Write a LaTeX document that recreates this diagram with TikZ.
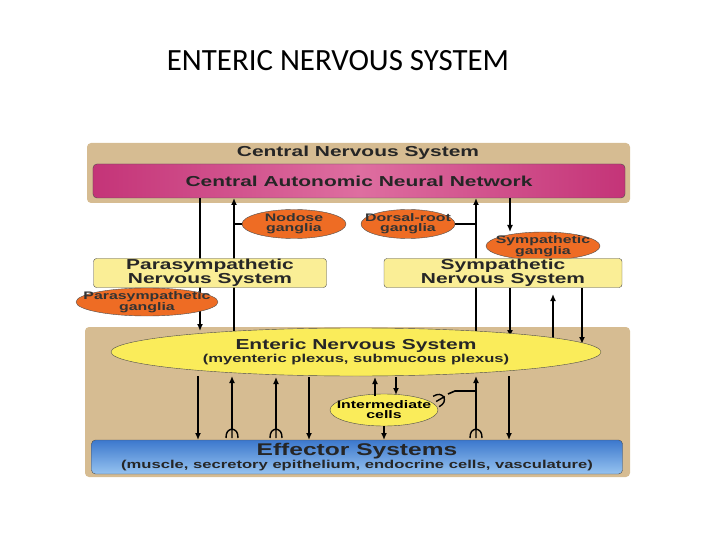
\documentclass[tikz,border=0pt]{standalone}
\usepackage{fontspec}
\setmainfont{Liberation Sans}
\newfontfamily\titlefont{Carlito}
\newfontfamily\wide[FakeStretch=1.45]{Liberation Sans}
\usetikzlibrary{shapes.geometric,arrows.meta}
\definecolor{tan}{RGB}{214,188,146}
\definecolor{pinkA}{RGB}{196,52,120}
\definecolor{pinkB}{RGB}{222,110,160}
\definecolor{ybox}{RGB}{250,238,150}
\definecolor{orng}{RGB}{238,108,36}
\definecolor{yell}{RGB}{250,236,90}
\definecolor{blueA}{RGB}{60,120,205}
\definecolor{blueB}{RGB}{150,195,240}
\tikzset{
 x=1bp,y=-1bp,
 lbl/.style={font=\wide\bfseries\fontsize{14.5}{12}\selectfont,align=center,text=black!85},
 sbox/.style={draw=black!70,rounded corners=3bp,fill=ybox,inner sep=0,lbl},
 gang/.style={ellipse,draw=black!70,fill=orng,inner xsep=-20bp,inner ysep=-4bp,align=center,font=\wide\bfseries\fontsize{11}{10}\selectfont,text=black!80},
 ar/.style={line width=1.6bp,-{Latex[length=7bp,width=6bp]}},
 ln/.style={line width=1.6bp},
 trident/.pic={\draw[line width=1.4bp] (0,-9) -- (0,1) (-6,1) .. controls (-6,-5) and (-4,-7) .. (0,-8) .. controls (4,-7) and (6,-5) .. (6,1);}
}
\begin{document}
\begin{tikzpicture}
\useasboundingbox (0,0) rectangle (720,540);
\node[font=\titlefont\fontsize{31}{31}\selectfont] (title) at (338,61) {ENTERIC NERVOUS SYSTEM};
% top block
\fill[tan,rounded corners=4bp] (87,143) rectangle (630,203);
\node[lbl] (cns) at (358,153) {Central Nervous System};
\node[draw=black!70,rounded corners=4bp,left color=pinkA,right color=pinkA,middle color=pinkB,minimum width=532bp,minimum height=34bp,inner sep=0,lbl] (canN) at (359,181) {Central Autonomic Neural Network};
% bottom tan
\fill[tan,rounded corners=4bp] (85,327) rectangle (630,477);
% arrows top
\draw[ar] (200,198) -- (200,331);
\draw[ar] (234,331) -- (234,198);
\draw[ln] (234,224) -- (245,224);
\draw[ar] (476,338) -- (476,198);
\draw[ln] (476,224) -- (455,224);
\draw[ar] (510,198) -- (510,232);
\draw[ar] (510,288) -- (510,337);
\draw[ar] (553,342) -- (553,294);
\draw[ar] (582,288) -- (582,344);
% ganglia and boxes
\node[gang,minimum width=104bp,minimum height=29bp] (nod) at (294,224) {Nodose\\ganglia};
\node[gang,minimum width=94bp,minimum height=29bp] (dor) at (408,224) {Dorsal-root\\ganglia};
\node[gang,minimum width=114bp,minimum height=28bp] (sg) at (543,246) {Sympathetic\\ganglia};
\node[sbox,minimum width=233bp,minimum height=29bp] (pns) at (210,273) {Parasympathetic\\Nervous System};
\node[sbox,minimum width=238bp,minimum height=29bp] (sns) at (503,273) {Sympathetic\\Nervous System};
\node[gang,minimum width=142bp,minimum height=28bp] (pg) at (147,302) {Parasympathetic\\ganglia};
% ENS
\node[ellipse,draw=black!70,fill=yell,minimum width=490bp,minimum height=48bp,inner sep=0,lbl] (ens) at (356,352) {Enteric Nervous System\\[1pt]{\fontsize{11.5}{10}\selectfont(myenteric plexus, submucous plexus)}};
% effector
\node[draw=black!70,rounded corners=4bp,top color=blueA,bottom color=blueB,minimum width=531bp,minimum height=34bp,inner sep=0,align=center,font=\wide\bfseries,text=black!85] (eff) at (357,457) {\fontsize{17}{14}\selectfont Effector Systems\\[1pt]\fontsize{11.5}{10}\selectfont(muscle, secretory epithelium, endocrine cells, vasculature)};
% intermediate
\node[ellipse,draw=black!70,fill=yell,minimum width=108bp,minimum height=32bp,inner xsep=-20bp,inner ysep=-4bp,align=center,font=\wide\bfseries\fontsize{11}{10}\selectfont] (int) at (384,410) {Intermediate\\cells};
% bottom arrows
\draw[ar] (198,376) -- (198,440);
\draw[ar] (232,429) -- (232,376);
\pic at (232,437) {trident};
\draw[ar] (276,429) -- (276,377);
\pic at (276,437) {trident};
\draw[ar] (309,377) -- (309,440);
\draw[ar] (375,396) -- (375,377);
\draw[ar] (396,377) -- (396,395);
\draw[ar] (384,426) -- (384,440);
\draw[ar] (476,429) -- (476,376);
\pic at (476,437) {trident};
\draw[ar] (509,376) -- (509,440);
\draw[ln] (476,391) -- (455,391) -- (448,394);
\pic[rotate=-60] at (437,401) {trident};
\end{tikzpicture}
\end{document}
